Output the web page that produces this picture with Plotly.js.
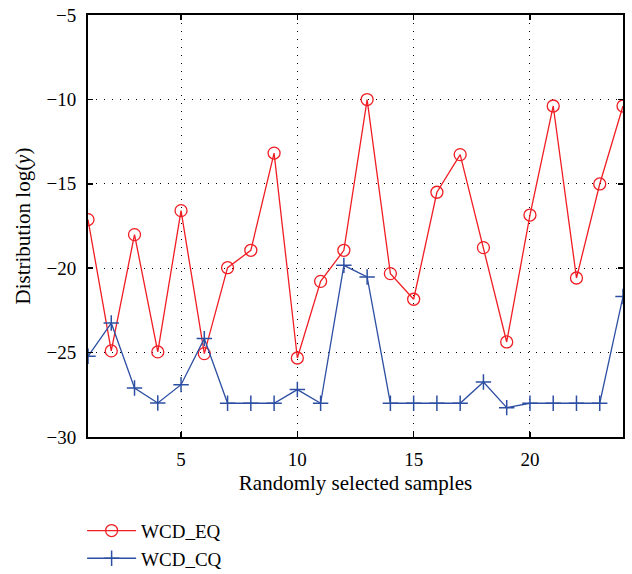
<!DOCTYPE html>
<html>
<head>
<meta charset="utf-8">
<script src="https://cdn.plot.ly/plotly-3.0.1.min.js"></script>
<style>html,body{margin:0;padding:0;background:#fff;}#chart{width:632px;height:574px;}</style>
</head>
<body>
<div id="chart"></div>
<script>
const samples = [1,2,3,4,5,6,7,8,9,10,11,12,13,14,15,16,17,18,19,20,21,22,23,24];
const wcdEQ = [-17.12,-24.9,-18.01,-24.96,-16.59,-25.06,-19.97,-18.94,-13.18,-25.32,-20.78,-18.94,-10.01,-20.32,-21.84,-15.5,-13.27,-18.78,-24.37,-16.85,-10.39,-20.58,-15.01,-10.39];
const wcdCQ = [-25.22,-23.25,-27.1,-27.99,-26.9,-24.17,-28.0,-28.0,-28.0,-27.19,-28.0,-19.83,-20.52,-28.0,-28.0,-28.0,-28.0,-26.74,-28.26,-28.0,-28.0,-28.0,-28.0,-21.68];
const xTicks = [5,10,15,20];
const yTicks = [-30,-25,-20,-15,-10,-5];

const font = {family: '"Liberation Serif", "DejaVu Serif", serif', color: '#000'};

const traces = [
  {x: samples, y: wcdEQ, name: 'WCD_EQ', mode: 'lines+markers', type: 'scatter',
   line: {color: '#f01e24', width: 1.3},
   marker: {symbol: 'circle-open', size: 12, color: '#f01e24', line: {width: 1.3}}},
  {x: samples, y: wcdCQ, name: 'WCD_CQ', mode: 'lines+markers', type: 'scatter',
   line: {color: '#2d4fa3', width: 1.3},
   marker: {symbol: 'cross-thin-open', size: 11, color: '#2d4fa3', line: {width: 1.5, color: '#2d4fa3'}}}
];

const layout = {
  width: 632, height: 574,
  margin: {l: 88, r: 9, t: 15, b: 137, autoexpand: false},
  paper_bgcolor: '#fff', plot_bgcolor: '#fff',
  font: Object.assign({size: 19}, font),
  showlegend: true,
  legend: {x: -0.011, y: -0.177, xanchor: 'left', yanchor: 'top', orientation: 'v',
           itemwidth: 49,
           font: Object.assign({size: 19}, font), bgcolor: 'rgba(0,0,0,0)', tracegroupgap: 0},
  xaxis: {
    range: [1, 24], tickvals: xTicks, ticktext: xTicks.map(String), automargin: false,
    showline: true, linecolor: '#000', linewidth: 2, mirror: 'allticks',
    ticks: 'inside', ticklen: 5, tickcolor: '#000', tickwidth: 1.5,
    showgrid: true, gridcolor: '#000', gridwidth: 1, griddash: '1px,7px',
    zeroline: false, tickfont: Object.assign({size: 19}, font), ticklabelstandoff: 4,
    title: {text: 'Randomly selected samples', font: Object.assign({size: 21}, font), standoff: 7}
  },
  yaxis: {
    range: [-30, -5], tickvals: yTicks, automargin: false,
    showline: true, linecolor: '#000', linewidth: 2, mirror: 'allticks',
    ticks: 'inside', ticklen: 5, tickcolor: '#000', tickwidth: 1.5,
    showgrid: true, gridcolor: '#000', gridwidth: 1, griddash: '1px,7px',
    zeroline: false, tickfont: Object.assign({size: 19}, font), ticklabelstandoff: 6,
    title: {text: 'Distribution log(<i>y</i>)', font: Object.assign({size: 21}, font), standoff: 10}
  }
};

Plotly.newPlot('chart', traces, layout, {displayModeBar: false, staticPlot: true});
</script>
</body>
</html>
